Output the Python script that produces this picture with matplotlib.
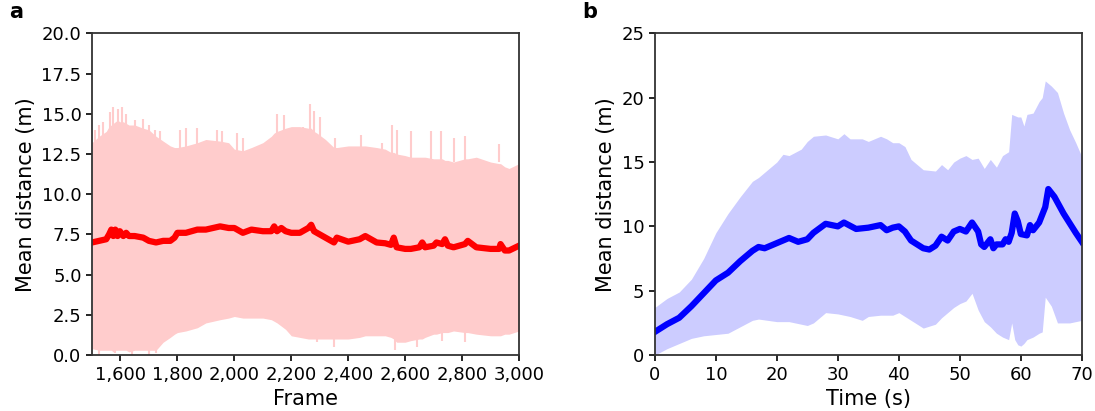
import matplotlib
matplotlib.use("Agg")
import matplotlib.pyplot as plt
from matplotlib.ticker import FuncFormatter

# ---- panel a: mean distance per frame ----
frame = [1500, 1525, 1550, 1560, 1568, 1575, 1582, 1590, 1598, 1610, 1620, 1630, 1650,
         1680, 1700, 1725, 1750, 1775, 1790, 1800, 1830, 1870, 1900, 1950, 1980, 2000,
         2030, 2060, 2100, 2130, 2140, 2150, 2165, 2180, 2200, 2230, 2260, 2270, 2280,
         2290, 2320, 2350, 2360, 2400, 2440, 2460, 2500, 2530, 2550, 2560, 2570, 2600,
         2620, 2650, 2660, 2670, 2700, 2710, 2730, 2740, 2750, 2770, 2810, 2820, 2850,
         2900, 2930, 2935, 2950, 2965, 3000]
mean_a = [7.0, 7.1, 7.2, 7.5, 7.8, 7.4, 7.8, 7.4, 7.7, 7.4, 7.6, 7.4, 7.4,
          7.3, 7.1, 7.0, 7.1, 7.1, 7.3, 7.6, 7.6, 7.8, 7.8, 8.0, 7.9, 7.9,
          7.6, 7.8, 7.7, 7.7, 8.0, 7.7, 7.9, 7.7, 7.6, 7.6, 7.9, 8.1, 7.7,
          7.6, 7.3, 7.0, 7.3, 7.05, 7.2, 7.4, 7.0, 6.95, 6.85, 7.3, 6.7, 6.6,
          6.6, 6.7, 7.0, 6.7, 6.8, 7.0, 6.9, 7.2, 6.8, 6.7, 6.9, 7.1, 6.7,
          6.6, 6.6, 6.9, 6.5, 6.5, 6.8]
upper_a = [13.2, 13.6, 13.9, 14.2, 14.3, 14.4, 14.5, 14.6, 14.5, 14.5, 14.4, 14.3, 14.3,
           14.1, 14.0, 13.6, 13.3, 13.0, 12.9, 12.9, 13.0, 13.2, 13.4, 13.3, 13.2, 12.8,
           12.7, 12.9, 13.2, 13.6, 13.8, 13.9, 14.0, 14.1, 14.2, 14.2, 14.1, 14.1, 13.9,
           13.8, 13.4, 12.9, 12.9, 13.0, 13.0, 13.0, 12.9, 12.8, 12.6, 12.6, 12.5, 12.4,
           12.3, 12.3, 12.3, 12.3, 12.2, 12.2, 12.2, 12.1, 12.1, 12.0, 12.2, 12.2, 12.3,
           12.0, 11.9, 11.9, 11.7, 11.6, 11.9]
lower_a = [0.4, 0.3, 0.3, 0.3, 0.3, 0.2, 0.3, 0.3, 0.3, 0.3, 0.3, 0.2, 0.3,
           0.3, 0.3, 0.3, 0.8, 1.1, 1.3, 1.4, 1.5, 1.7, 2.0, 2.2, 2.3, 2.4,
           2.3, 2.3, 2.3, 2.2, 2.1, 2.0, 1.8, 1.6, 1.2, 1.1, 1.0, 1.0, 1.0,
           1.0, 1.0, 1.0, 1.0, 1.0, 1.1, 1.2, 1.2, 1.2, 1.1, 1.0, 0.8, 0.8,
           0.9, 1.0, 1.0, 1.1, 1.3, 1.3, 1.4, 1.4, 1.4, 1.5, 1.4, 1.4, 1.3,
           1.2, 1.2, 1.2, 1.3, 1.3, 1.5]
# isolated spikes of the spread band
spike_up_x = [1510, 1525, 1540, 1565, 1575, 1590, 1605, 1620, 1650, 1680, 1700, 1720,
              1740, 1810, 1830, 1870, 1940, 1955, 2010, 2030, 2150, 2175, 2240, 2265,
              2280, 2300, 2355, 2445, 2520, 2555, 2570, 2620, 2690, 2725, 2770, 2810, 2930]
spike_up_y = [14.0, 14.3, 14.5, 15.1, 15.4, 15.3, 15.4, 15.0, 14.6, 14.7, 14.3, 14.0,
              13.9, 14.0, 14.1, 14.1, 14.0, 13.9, 13.8, 13.5, 15.0, 14.9, 14.2, 15.6,
              15.2, 14.8, 13.5, 13.7, 13.2, 14.3, 14.0, 13.9, 13.9, 13.9, 13.5, 13.6, 13.1]
spike_dn_x = [1525, 1580, 1640, 1700, 1725, 2290, 2350, 2565, 2640, 2730, 2810]
spike_dn_y = [0.0, 0.1, 0.0, 0.0, 0.1, 0.8, 0.5, 0.3, 0.5, 0.9, 0.8]
frame_ticks = [1600, 1800, 2000, 2200, 2400, 2600, 2800, 3000]

# ---- panel b: mean distance over time ----
time_b = [0, 2, 4, 6, 8, 10, 12, 14, 16, 17, 18, 20, 22, 23.5, 25, 26, 28, 30, 31, 33,
          35, 37, 38, 39, 40, 41, 42, 44, 45, 46, 47, 48, 49, 50, 51, 52, 53, 53.5, 54,
          55, 55.5, 56, 57, 57.5, 58, 58.5, 59, 59.5, 60, 61, 61.5, 62, 63, 64, 64.5,
          65.5, 67, 69, 70]
mean_b = [1.8, 2.4, 2.9, 3.8, 4.8, 5.8, 6.4, 7.3, 8.1, 8.4, 8.3, 8.7, 9.1, 8.8, 9.0,
          9.5, 10.2, 10.0, 10.3, 9.8, 9.9, 10.1, 9.7, 9.9, 10.0, 9.6, 8.9, 8.3, 8.2,
          8.5, 9.2, 8.9, 9.6, 9.8, 9.6, 10.3, 9.6, 8.6, 8.4, 9.0, 8.3, 8.6, 8.6, 9.0,
          8.8, 9.5, 11.0, 10.4, 9.4, 9.3, 10.1, 9.7, 10.3, 11.5, 12.9, 12.3, 11.0, 9.5, 8.8]

time_env = [0, 2, 4, 6, 8, 10, 12, 14, 16, 17, 20, 21, 22, 24, 25, 26, 28, 30, 31, 32,
            34, 35, 37, 38, 39, 40, 41, 42, 44, 46, 47, 48, 49, 50, 51, 52, 53, 54, 55,
            56, 57, 58, 58.5, 59, 59.5, 60, 60.5, 61, 62, 63, 63.5, 64, 65, 66, 67, 68,
            69, 70]
upper_b = [3.7, 4.4, 4.9, 5.9, 7.5, 9.5, 11.0, 12.3, 13.5, 13.8, 15.0, 15.6, 15.5, 16.0,
           16.6, 17.0, 17.1, 16.8, 17.2, 16.8, 16.8, 16.6, 17.0, 16.8, 16.5, 16.5, 16.2,
           15.2, 14.4, 14.3, 14.8, 14.4, 15.0, 15.3, 15.5, 15.2, 15.3, 14.5, 15.2, 14.6,
           15.5, 15.8, 18.7, 18.6, 18.5, 18.5, 17.8, 18.7, 18.8, 19.7, 20.0, 21.3, 20.9,
           20.4, 18.8, 17.5, 16.5, 15.4]
lower_b = [0.0, 0.5, 0.9, 1.3, 1.5, 1.6, 1.7, 2.2, 2.7, 2.8, 2.6, 2.6, 2.6, 2.4,
           2.3, 2.5, 3.3, 3.2, 3.1, 3.0, 2.7, 3.0, 3.1, 3.1, 3.1, 3.3, 3.0,
           2.7, 2.1, 2.4, 2.9, 3.3, 3.7, 4.0, 4.2, 4.8, 3.5, 2.6, 2.2, 1.7,
           1.4, 1.2, 2.5, 1.2, 0.8, 0.7, 0.9, 1.2, 1.4, 1.7, 1.8, 4.5, 3.8,
           2.5, 2.5, 2.5, 2.6, 2.7]

plt.rcParams['font.family'] = 'DejaVu Sans'
fig = plt.figure(figsize=(10.95, 4.11), dpi=100)
ax1 = fig.add_axes([0.084, 0.136, 0.39, 0.783])
ax2 = fig.add_axes([0.598, 0.136, 0.39, 0.783])

pink = '#ffcccc'
lilac = '#ccccff'

ax1.fill_between(frame, lower_a, upper_a, color=pink, lw=0)
ax1.vlines(spike_up_x, 12, spike_up_y, color=pink, lw=1.5)
ax1.vlines(spike_dn_x, spike_dn_y, 2, color=pink, lw=1.5)
ax1.plot(frame, mean_a, color='red', lw=4.5, solid_joinstyle='round')
ax1.set_xlim(1500, 3000)
ax1.set_ylim(0, 20)
ax1.set_xticks(frame_ticks)
ax1.set_yticks([0, 2.5, 5, 7.5, 10, 12.5, 15, 17.5, 20])
ax1.yaxis.set_major_formatter(FuncFormatter(lambda v, p: f'{v:.1f}'))
ax1.xaxis.set_major_formatter(FuncFormatter(lambda v, p: f'{int(v):,}'))
ax1.set_xlabel('Frame', fontsize=15)
ax1.set_ylabel('Mean distance (m)', fontsize=15)

ax2.fill_between(time_env, lower_b, upper_b, color=lilac, lw=0)
ax2.plot(time_b, mean_b, color='blue', lw=4.5, solid_joinstyle='round')
ax2.set_xlim(0, 70)
ax2.set_ylim(0, 25)
ax2.set_xlabel('Time (s)', fontsize=15)
ax2.set_ylabel('Mean distance (m)', fontsize=15)

for ax in (ax1, ax2):
    ax.tick_params(labelsize=13, width=1.2, length=4)
    for s in ax.spines.values():
        s.set_linewidth(1.3)
        s.set_color('#333333')

fig.text(0.008, 0.955, 'a', fontsize=15, fontweight='bold')
fig.text(0.532, 0.955, 'b', fontsize=15, fontweight='bold')

fig.savefig('out.png', dpi=100)
